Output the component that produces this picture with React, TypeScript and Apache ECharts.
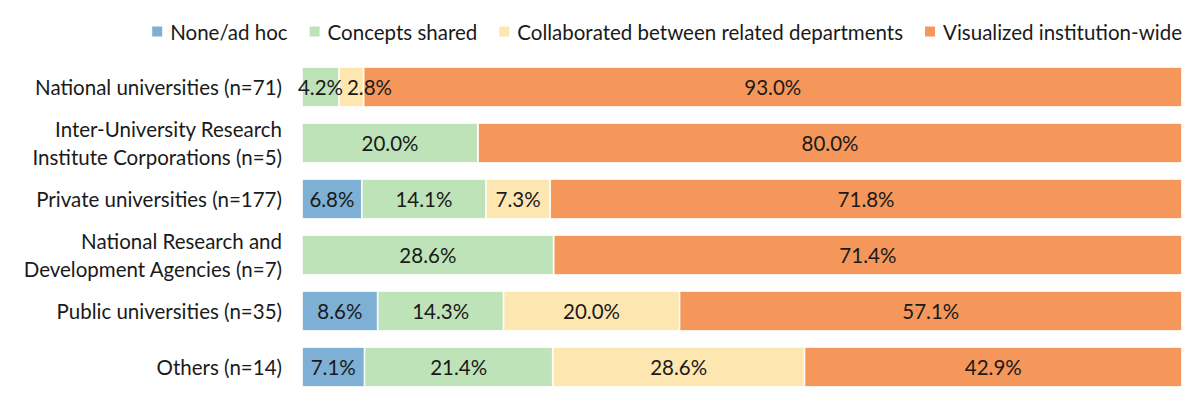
import React, { useEffect, useRef } from "react";
import * as echarts from "echarts";

const categories = [
  "National universities (n=71)",
  "Inter-University Research\nInstitute Corporations (n=5)",
  "Private universities (n=177)",
  "National Research and\nDevelopment Agencies (n=7)",
  "Public universities (n=35)",
  "Others (n=14)",
];

const seriesNames = [
  "None/ad hoc",
  "Concepts shared",
  "Collaborated between related departments",
  "Visualized institution-wide",
];

const noneAdHoc = [0, 0, 6.8, 0, 8.6, 7.1];
const conceptsShared = [4.2, 20.0, 14.1, 28.6, 14.3, 21.4];
const collaborated = [2.8, 0, 7.3, 0, 20.0, 28.6];
const visualized = [93.0, 80.0, 71.8, 71.4, 57.1, 42.9];

const colors = ["#7EB0D5", "#BFE3B9", "#FEE6B1", "#F5975B"];

const FONT = "Lato, 'Noto Sans', sans-serif";
const FS = 20.5;
const TXT = "#1a1a1a";

export default function App() {
  const ref = useRef<HTMLDivElement>(null);

  useEffect(() => {
    document.body.style.margin = "0";
    if (!ref.current) return;
    const chart = echarts.init(ref.current, null, { renderer: "svg" });
    const data = [noneAdHoc, conceptsShared, collaborated, visualized];
    chart.setOption({
      animation: false,
      textStyle: { fontFamily: FONT },
      legend: {
        top: 16,
        right: 13,
        itemWidth: 12,
        itemHeight: 12,
        itemGap: 20,
        icon: "rect",
        textStyle: {
          fontSize: FS,
          color: TXT,
          fontFamily: FONT,
          padding: [0, 0, 0, 2],
        },
        data: seriesNames,
      },
      grid: { left: 302, right: 18, top: 59, bottom: 15 },
      xAxis: {
        type: "value",
        min: 0,
        max: 100,
        show: false,
      },
      yAxis: {
        type: "category",
        inverse: true,
        data: categories,
        axisLine: { show: false },
        axisTick: { show: false },
        axisLabel: {
          fontSize: FS,
          color: TXT,
          fontFamily: FONT,
          lineHeight: 28,
          margin: 20,
          align: "right",
        },
      },
      series: seriesNames.map((name, i) => ({
        name,
        type: "bar",
        stack: "total",
        barWidth: 40,
        data: data[i],
        itemStyle: { color: colors[i], borderColor: "#ffffff", borderWidth: 0.8 },
        label: {
          show: true,
          position: "inside",
          fontSize: FS,
          color: TXT,
          fontFamily: FONT,
          formatter: (p: any) => (p.value > 0 ? p.value.toFixed(1) + "%" : ""),
        },
        labelLayout:
          i === 2
            ? (params: any) => {
                const rw = params.rect.width;
                const lw = params.labelRect.width;
                if (lw > rw) return { dx: 8 + lw / 2 - rw / 2 };
                return {};
              }
            : undefined,
      })),
    });
    return () => chart.dispose();
  }, []);

  return (
    <div
      ref={ref}
      style={{ position: "absolute", left: 0, top: 0, width: 1200, height: 410 }}
    />
  );
}
